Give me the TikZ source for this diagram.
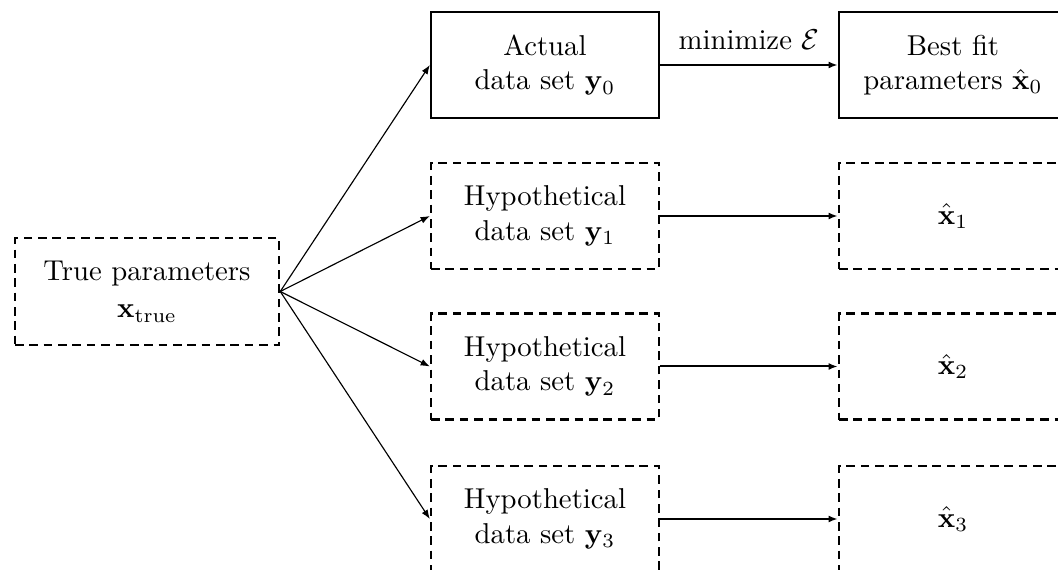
\documentclass[tikz,border=0pt]{standalone}
\usetikzlibrary{arrows.meta}
\begin{document}
\begin{tikzpicture}[x=0.348pt,y=-0.348pt,
  box/.style={draw,line width=0.85pt,rectangle,align=center,inner sep=0pt,
    minimum width=79.3pt,minimum height=36.9pt},
  dbox/.style={box,dash pattern=on 3pt off 2pt},
  conn/.style={line width=0.4pt,-{Latex[length=3.2pt,width=2.4pt]}},
  hconn/.style={line width=0.7pt,-{Latex[length=3.2pt,width=2.4pt]}}]
\clip (0,0) rectangle (1058,570);
\useasboundingbox (0,0) rectangle (1058,570);
\node[dbox,minimum width=91.9pt,minimum height=37.2pt] (true) at (147,291.5)
  {True parameters\\[1pt]$\mathbf{x}_{\mathrm{true}}$};
\node[box] (y0) at (545,65) {Actual\\data set $\mathbf{y}_0$};
\node[dbox] (y1) at (545,216) {Hypothetical\\data set $\mathbf{y}_1$};
\node[dbox] (y2) at (545,366.5) {Hypothetical\\data set $\mathbf{y}_2$};
\node[dbox] (y3) at (545,519) {Hypothetical\\data set $\mathbf{y}_3$};
\node[box] (x0) at (953,65) {Best fit\\parameters $\hat{\mathbf{x}}_0$};
\node[dbox] (x1) at (953,216) {$\hat{\mathbf{x}}_1$};
\node[dbox] (x2) at (953,366.5) {$\hat{\mathbf{x}}_2$};
\node[dbox] (x3) at (953,519) {$\hat{\mathbf{x}}_3$};
\foreach \n in {y0,y1,y2,y3} \draw[conn] (true.east) -- (\n.west);
\draw[hconn] (y0.east) -- node[above=1.5pt] {minimize $\mathcal{E}$} (x0.west);
\draw[hconn] (y1.east) -- (x1.west);
\draw[hconn] (y2.east) -- (x2.west);
\draw[hconn] (y3.east) -- (x3.west);
\end{tikzpicture}
\end{document}
